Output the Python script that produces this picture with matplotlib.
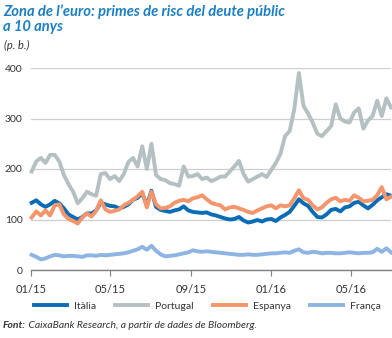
import matplotlib
matplotlib.use("Agg")
import matplotlib.pyplot as plt
import pandas as pd

plt.rcParams["font.family"] = ["Lato", "DejaVu Sans"]

dates = pd.date_range("2015-01-02", periods=79, freq="7D")

italia = [133, 138, 130, 125, 130, 137, 132, 122, 110, 105, 100, 105, 112, 112, 118, 133,
          130, 127, 126, 122, 125, 130, 139, 143, 152, 128, 157, 125, 119, 117, 115, 118,
          120, 126, 118, 115, 114, 113, 114, 110, 108, 105, 102, 100, 101, 105, 98, 94,
          96, 99, 96, 100, 101, 97, 104, 109, 115, 127, 140, 132, 127, 115, 105, 104, 110,
          119, 121, 116, 124, 126, 133, 135, 128, 122, 129, 138, 144, 150, 147]

portugal = [195, 215, 222, 212, 228, 228, 215, 188, 170, 155, 132, 142, 155, 150, 147, 190,
            192, 180, 186, 176, 190, 214, 222, 205, 245, 200, 250, 188, 180, 178, 172, 170,
            167, 205, 185, 186, 190, 180, 183, 176, 180, 185, 185, 195, 205, 216, 190, 175,
            180, 185, 190, 184, 198, 212, 230, 265, 275, 318, 390, 325, 310, 292, 270, 265,
            275, 285, 328, 300, 294, 292, 312, 320, 280, 296, 305, 335, 305, 340, 322]

espanya = [104, 116, 108, 118, 108, 128, 130, 110, 101, 97, 92, 104, 112, 106, 117, 138,
           120, 115, 117, 120, 128, 133, 139, 146, 155, 124, 155, 130, 122, 123, 126, 133,
           137, 139, 136, 142, 144, 148, 140, 133, 130, 128, 120, 124, 125, 122, 119, 115,
           113, 118, 122, 126, 128, 122, 128, 126, 128, 142, 158, 142, 139, 128, 120, 124,
           133, 140, 143, 136, 139, 137, 148, 143, 136, 137, 139, 148, 164, 140, 145]

franca = [30, 26, 21, 23, 27, 30, 29, 27, 28, 28, 27, 26, 29, 29, 28, 30, 29, 30, 31, 32,
          33, 35, 38, 41, 46, 40, 48, 38, 31, 27, 28, 29, 31, 33, 35, 39, 37, 36, 37, 36,
          35, 34, 33, 32, 31, 30, 30, 31, 30, 30, 31, 32, 33, 33, 34, 35, 34, 38, 41, 35,
          34, 36, 35, 33, 34, 34, 33, 33, 34, 35, 34, 33, 34, 34, 35, 42, 36, 43, 35]

series_names = ["Itàlia", "Portugal", "Espanya", "França"]
series_values = [italia, portugal, espanya, franca]
colors = ["#0b6cb6", "#b5c0c2", "#f4956b", "#8db4e2"]

yticks = [0, 100, 200, 300, 400]
xtick_labels = ["01/15", "05/15", "09/15", "01/16", "05/16"]
xtick_dates = pd.to_datetime(["2015-01-01", "2015-05-01", "2015-09-01", "2016-01-01", "2016-05-01"])

title_lines = ["Zona de l’euro: primes de risc del deute públic", "a 10 anys"]
unit_label = "(p. b.)"
source_bold = "Font:"
source_rest = " CaixaBank Research, a partir de dades de Bloomberg."

W, H = 392, 338
fig = plt.figure(figsize=(W / 100, H / 100), dpi=100)
ax = fig.add_axes([31 / W, 68 / H, 360 / W, 202 / H])

lines = []
for name, vals, c in zip(series_names, series_values, colors):
    ln, = ax.plot(dates, vals, color=c, lw=2.8, label=name, solid_joinstyle="round")
    lines.append(ln)

lines[1].set_zorder(2)
lines[3].set_zorder(2)
lines[0].set_zorder(3)
lines[2].set_zorder(4)

ax.set_xlim(pd.Timestamp("2015-01-01"), pd.Timestamp("2016-07-01"))
ax.set_ylim(0, 400)
ax.set_yticks(yticks)
ax.set_yticklabels([str(v) for v in yticks])
ax.set_xticks(xtick_dates)
ax.set_xticklabels(xtick_labels)

for s in ["top", "right", "left"]:
    ax.spines[s].set_visible(False)
ax.spines["bottom"].set_color("#7f7f7f")
ax.spines["bottom"].set_linewidth(1.0)
ax.yaxis.grid(True, color="#cfcfcf", lw=0.9)
ax.set_axisbelow(True)
ax.tick_params(axis="y", length=0, pad=6, labelsize=7.5, labelcolor="#333333")
ax.tick_params(axis="x", length=4, width=0.8, color="#7f7f7f", pad=6, labelsize=8,
               labelcolor="#333333")
ax.set_facecolor("none")
for ln in lines:
    ln.set_clip_on(False)

fig.text(3 / W, 1 - 12 / H, title_lines[0], fontsize=10.6, fontweight="bold", fontstyle="italic",
         color="#1b7fc4", va="center", ha="left")
fig.text(3 / W, 1 - 27 / H, title_lines[1], fontsize=10.6, fontweight="bold", fontstyle="italic",
         color="#1b7fc4", va="center", ha="left")
fig.text(4 / W, 1 - 45 / H, unit_label, fontsize=8, fontstyle="italic",
         color="#333333", va="center", ha="left")

fs = 7.5
fspx = fs * 100 / 72
leg = fig.legend(handles=lines, labels=series_names, loc="center left",
                 bbox_to_anchor=(34 / W, 1 - 306 / H), ncol=4, frameon=False, fontsize=fs,
                 handlelength=33 / fspx, handletextpad=7 / fspx, columnspacing=19 / fspx,
                 borderaxespad=0, borderpad=0)
for t in leg.get_texts():
    t.set_color("#333333")

t1 = fig.text(3 / W, 1 - 326 / H, source_bold, fontsize=7.5, fontweight="bold", fontstyle="italic",
              color="#333333", va="center", ha="left")
fig.canvas.draw()
bb = t1.get_window_extent(fig.canvas.get_renderer())
fig.text(bb.x1 / W, 1 - 326 / H, source_rest, fontsize=7.5,
         fontstyle="italic", color="#333333", va="center", ha="left")

fig.savefig("out.png", dpi=100)
